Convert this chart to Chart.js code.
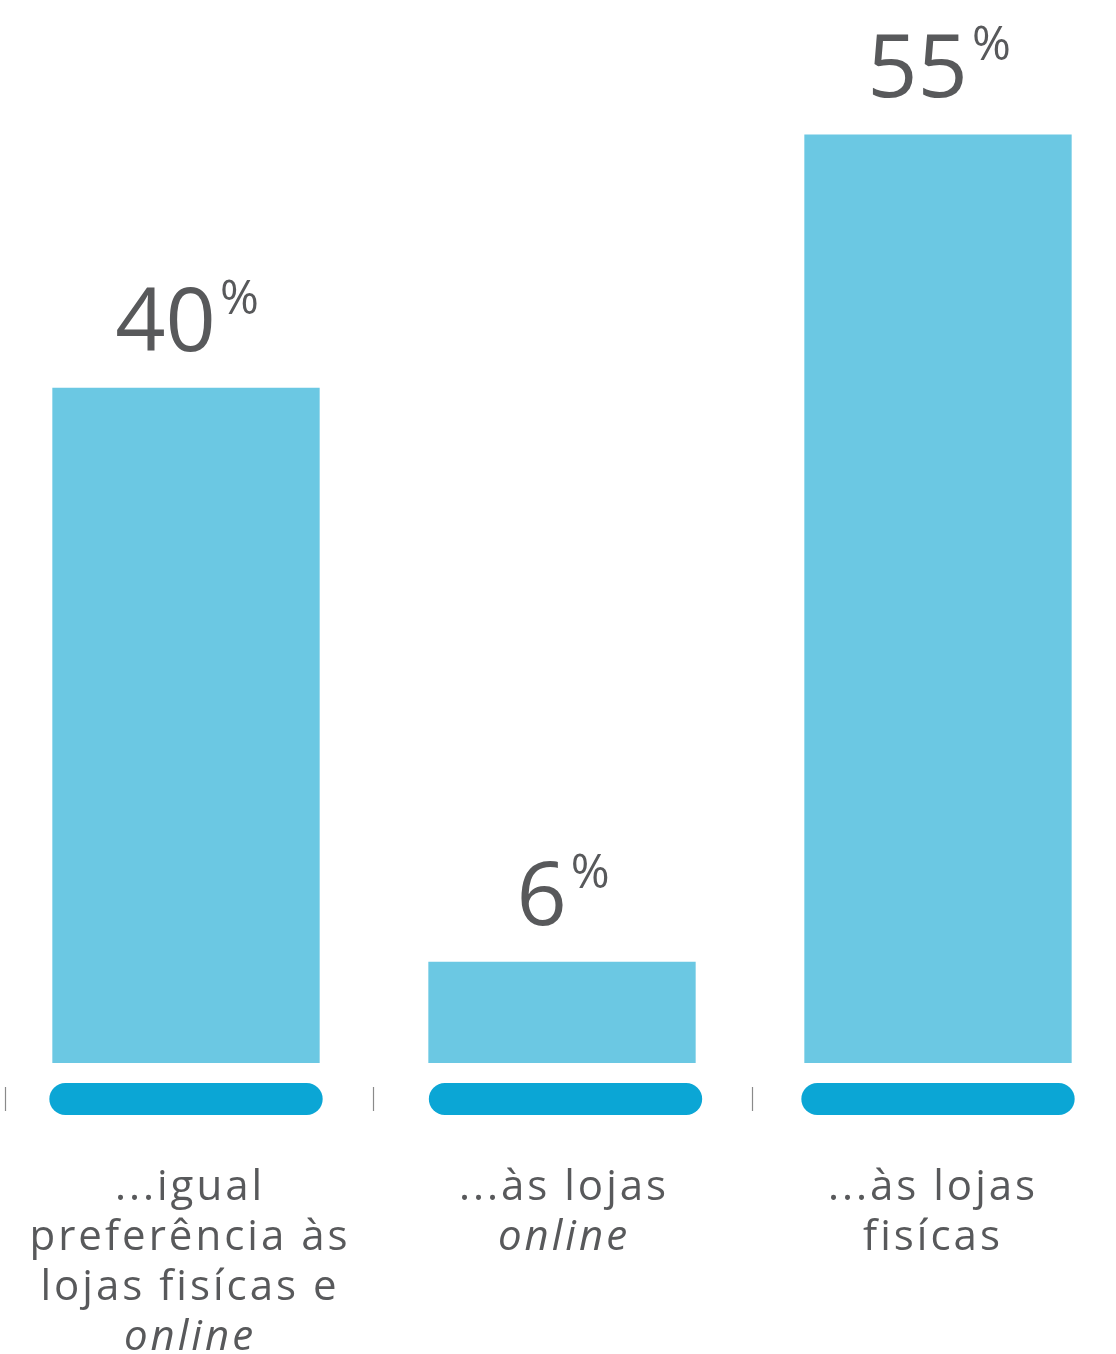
<!DOCTYPE html>
<html><head><meta charset="utf-8">
<script src="https://cdn.jsdelivr.net/npm/chart.js@4/dist/chart.umd.min.js"></script>
<style>
html,body{margin:0;padding:0;background:#fff;overflow:hidden;}
#wrap{position:relative;width:1128px;height:1354px;margin-left:-2px;}
</style></head>
<body>
<div id="wrap"><canvas id="c"></canvas></div>
<script>
const categories = ['igual', 'online', 'fisicas'];
const values = [40, 6, 55];
// label lines: each line is [text, italic]
const labelLines = [
  [['...igual', false], ['preferência às', false], ['lojas fisícas e', false], ['online', true]],
  [['...às lojas', false], ['online', true]],
  [['...às lojas', false], ['fisícas', false]]
];
const suffix = '%';

const FONT = '"Open Sans", sans-serif';
const TXT = '#58595b';
const labelShift = [2.5, 0.5, -6.5];
const tickShift = [-181.5, -189.5, -186.5];
const pillShift = [0, 3.5, 0];

const decor = {
  id: 'decor',
  afterDatasetsDraw(chart) {
    const ctx = chart.ctx;
    const meta = chart.getDatasetMeta(0);
    const bottom = chart.chartArea.bottom;
    ctx.save();
    meta.data.forEach((bar, i) => {
      const w = bar.width;
      const cx = bar.x;
      // value label
      ctx.fillStyle = TXT;
      ctx.textBaseline = 'alphabetic';
      ctx.textAlign = 'left';
      const num = String(values[i]);
      ctx.font = '88px ' + FONT;
      const nw = ctx.measureText(num).width;
      ctx.font = '47px ' + FONT;
      const pw = ctx.measureText(suffix).width;
      const gap = 4;
      const total = nw + gap + pw;
      const x0 = cx - total / 2 + 1;
      const base = bar.y - 37;
      ctx.font = '88px ' + FONT;
      ctx.fillText(num, x0, base);
      ctx.font = '47px ' + FONT;
      ctx.fillText(suffix, x0 + nw + gap, base - 37);
      // pill
      const px = cx - w / 2 - 3 + pillShift[i], pwid = w + 6, py = bottom + 20, ph = 32, r = 16;
      ctx.fillStyle = '#0ba6d5';
      ctx.beginPath();
      ctx.roundRect(px, py, pwid, ph, r);
      ctx.fill();
      // tick
      ctx.strokeStyle = '#8a8a8a';
      ctx.lineWidth = 1.2;
      const tx = Math.round(cx + tickShift[i]) + 0.5;
      ctx.beginPath();
      ctx.moveTo(tx, bottom + 24);
      ctx.lineTo(tx, bottom + 48);
      ctx.stroke();
      // labels
      ctx.fillStyle = TXT;
      ctx.textAlign = 'center';
      ctx.letterSpacing = '3px';
      labelLines[i].forEach((seg, li) => {
        ctx.font = (seg[1] ? 'italic ' : '') + '42px ' + FONT;
        ctx.fillText(seg[0], cx + labelShift[i] + 1.5, bottom + 137 + li * 50);
      });
      ctx.letterSpacing = '0px';
    });
    ctx.restore();
  }
};

new Chart(document.getElementById('c'), {
  type: 'bar',
  data: {
    labels: categories,
    datasets: [{
      data: values,
      backgroundColor: '#6bc8e3',
      borderWidth: 0,
      categoryPercentage: 1,
      barPercentage: 0.711
    }]
  },
  options: {
    responsive: true,
    maintainAspectRatio: false,
    animation: false,
    devicePixelRatio: 1,
    layout: { padding: { top: 50, bottom: 291, left: 0, right: 0 } },
    plugins: { legend: { display: false }, tooltip: { enabled: false } },
    scales: {
      x: { display: false },
      y: { display: false, min: 0, max: 60 }
    }
  },
  plugins: [decor]
});
</script>
</body></html>
